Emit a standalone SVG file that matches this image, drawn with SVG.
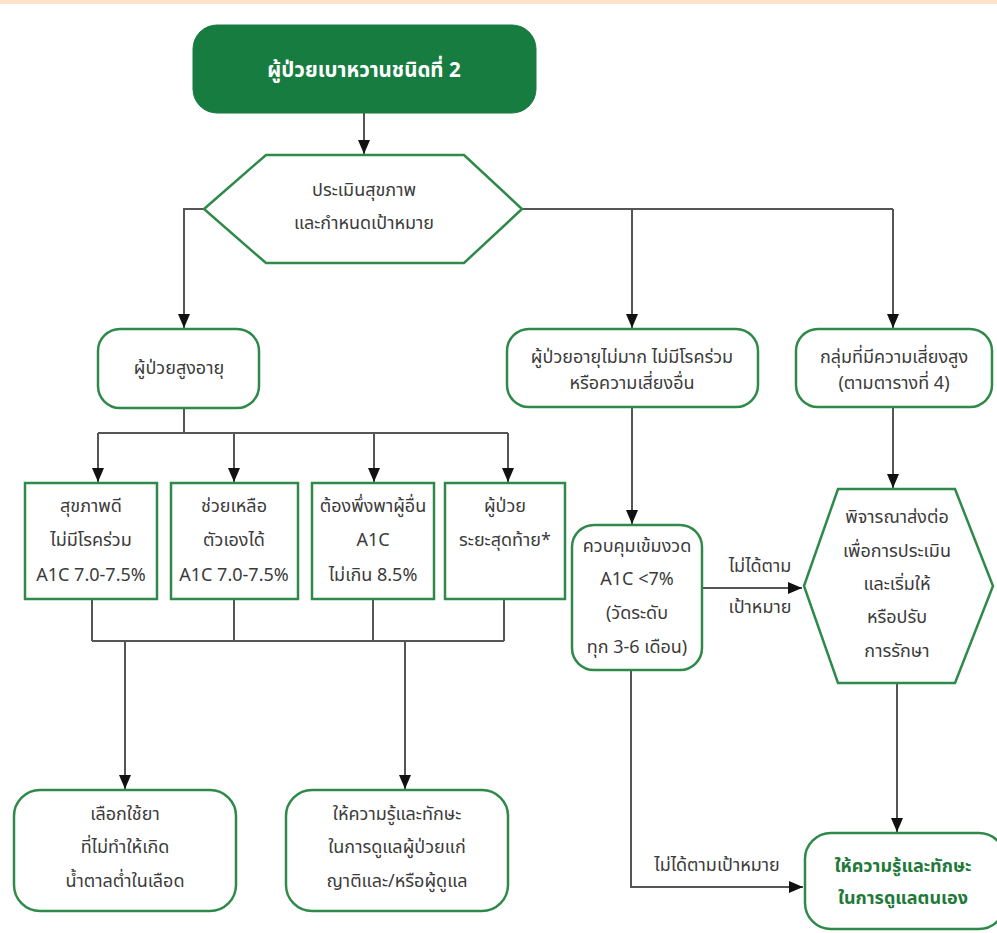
<svg xmlns="http://www.w3.org/2000/svg" width="997" height="933" viewBox="0 0 997 933">
<style>
.box{fill:#fff;stroke:#2f8a4a;stroke-width:2.5}
.t{font-family:"Noto Sans Thai","Tahoma","Leelawadee UI","Noto Sans","DejaVu Sans",sans-serif;font-size:18px;fill:#3b3b3b;text-anchor:middle}
.w{fill:#fff;font-size:20.5px;font-weight:bold}
.g{fill:#1f7a3a;font-weight:bold}
.c{fill:none;stroke:#555;stroke-width:2}
</style>
<defs>
<marker id="ah" viewBox="0 0 14 12" refX="14" refY="6" markerWidth="14" markerHeight="12" markerUnits="userSpaceOnUse" orient="auto"><path d="M0,0 L14,6 L0,12 z" fill="#111"/></marker>
</defs>
<rect x="0" y="0" width="997" height="4" fill="#fde3c7"/>
<g id="connectors">
<path class="c" d="M364,113 V154" marker-end="url(#ah)"/>
<path class="c" d="M204,209 H184 V328" marker-end="url(#ah)"/>
<path class="c" d="M522,209 H893"/>
<path class="c" d="M632,209 V328" marker-end="url(#ah)"/>
<path class="c" d="M893,209 V328" marker-end="url(#ah)"/>
<path class="c" d="M184,408 V433 M98,433 H508"/>
<path class="c" d="M98,433 V482" marker-end="url(#ah)"/>
<path class="c" d="M234,433 V482" marker-end="url(#ah)"/>
<path class="c" d="M374,433 V482" marker-end="url(#ah)"/>
<path class="c" d="M508,433 V482" marker-end="url(#ah)"/>
<path class="c" d="M92,599 V641 M234,599 V641 M373,599 V641 M504,599 V641 M92,641 H504"/>
<path class="c" d="M125,641 V789" marker-end="url(#ah)"/>
<path class="c" d="M405,641 V789" marker-end="url(#ah)"/>
<path class="c" d="M632,407 V524" marker-end="url(#ah)"/>
<path class="c" d="M702,588 H802" marker-end="url(#ah)"/>
<path class="c" d="M893,407 V488" marker-end="url(#ah)"/>
<path class="c" d="M897,683 V832" marker-end="url(#ah)"/>
<path class="c" d="M631,670 V887 H803" marker-end="url(#ah)"/>
</g>
<g id="start">
<rect x="193" y="25" width="343" height="88" rx="24" fill="#177c3f" stroke="#1a7a40" stroke-width="1"/>
<text class="t w" x="364" y="77">ผู้ป่วยเบาหวานชนิดที่ 2</text>
</g>
<g id="assess">
<polygon class="box" points="204,209 266,155 464,155 522,209 464,263 266,263"/>
<text class="t" x="364" y="196">ประเมินสุขภาพ</text>
<text class="t" x="364" y="229">และกำหนดเป้าหมาย</text>
</g>
<g id="elderly">
<rect class="box" x="98" y="329" width="161" height="79" rx="22"/>
<text class="t" x="179" y="374">ผู้ป่วยสูงอายุ</text>
</g>
<g id="young">
<rect class="box" x="507" y="329" width="251" height="78" rx="22"/>
<text class="t" x="632" y="363">ผู้ป่วยอายุไม่มาก ไม่มีโรคร่วม</text>
<text class="t" x="632" y="389">หรือความเสี่ยงอื่น</text>
</g>
<g id="highrisk">
<rect class="box" x="796" y="329" width="196" height="78" rx="22"/>
<text class="t" x="894" y="363">กลุ่มที่มีความเสี่ยงสูง</text>
<text class="t" x="894" y="389">(ตามตารางที่ 4)</text>
</g>
<g id="healthy">
<rect class="box" x="25" y="483" width="132" height="116"/>
<text class="t" x="91" y="512">สุขภาพดี</text>
<text class="t" x="91" y="546">ไม่มีโรคร่วม</text>
<text class="t" x="91" y="581">A1C 7.0-7.5%</text>
</g>
<g id="selfcare">
<rect class="box" x="171" y="483" width="127" height="116"/>
<text class="t" x="234" y="512">ช่วยเหลือ</text>
<text class="t" x="234" y="546">ตัวเองได้</text>
<text class="t" x="234" y="581">A1C 7.0-7.5%</text>
</g>
<g id="dependent">
<rect class="box" x="312" y="483" width="122" height="116"/>
<text class="t" x="373" y="512">ต้องพึ่งพาผู้อื่น</text>
<text class="t" x="373" y="546">A1C</text>
<text class="t" x="373" y="581">ไม่เกิน 8.5%</text>
</g>
<g id="terminal">
<rect class="box" x="445" y="483" width="120" height="116"/>
<text class="t" x="505" y="512">ผู้ป่วย</text>
<text class="t" x="505" y="546">ระยะสุดท้าย*</text>
</g>
<g id="tight">
<rect class="box" x="572" y="525" width="130" height="145" rx="22"/>
<text class="t" x="637" y="552">ควบคุมเข้มงวด</text>
<text class="t" x="637" y="585">A1C &lt;7%</text>
<text class="t" x="637" y="619">(วัดระดับ</text>
<text class="t" x="637" y="653">ทุก 3-6 เดือน)</text>
</g>
<g id="refer">
<polygon class="box" points="804,586 838,489 955,489 993,586 955,683 838,683"/>
<text class="t" x="897" y="523">พิจารณาส่งต่อ</text>
<text class="t" x="897" y="557">เพื่อการประเมิน</text>
<text class="t" x="897" y="590">และเริ่มให้</text>
<text class="t" x="897" y="623">หรือปรับ</text>
<text class="t" x="897" y="657">การรักษา</text>
</g>
<g id="drug">
<rect class="box" x="14" y="790" width="222" height="121" rx="26"/>
<text class="t" x="125" y="820">เลือกใช้ยา</text>
<text class="t" x="125" y="853">ที่ไม่ทำให้เกิด</text>
<text class="t" x="125" y="887">น้ำตาลต่ำในเลือด</text>
</g>
<g id="caregiver">
<rect class="box" x="286" y="790" width="222" height="121" rx="26"/>
<text class="t" x="397" y="820">ให้ความรู้และทักษะ</text>
<text class="t" x="397" y="853">ในการดูแลผู้ป่วยแก่</text>
<text class="t" x="397" y="887">ญาติและ/หรือผู้ดูแล</text>
</g>
<g id="selfmgmt">
<rect class="box" x="805" y="833" width="200" height="96" rx="26"/>
<text class="t g" x="903" y="872">ให้ความรู้และทักษะ</text>
<text class="t g" x="903" y="904">ในการดูแลตนเอง</text>
</g>
<g id="labels">
<text class="t" x="760" y="572">ไม่ได้ตาม</text>
<text class="t" x="760" y="613">เป้าหมาย</text>
<text class="t" x="717" y="871">ไม่ได้ตามเป้าหมาย</text>
</g>
</svg>
